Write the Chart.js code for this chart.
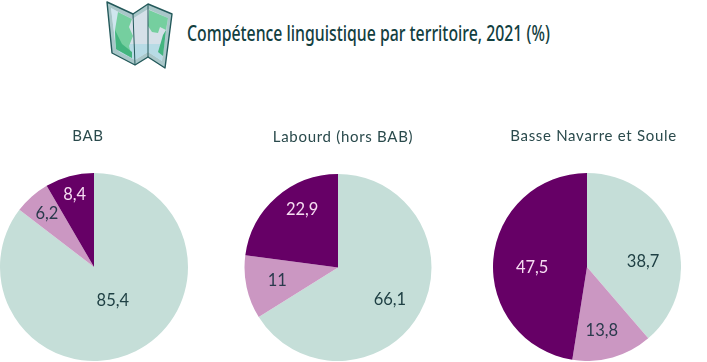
<!DOCTYPE html>
<html lang="fr">
<head>
<meta charset="utf-8">
<script src="https://cdn.jsdelivr.net/npm/chart.js@4/dist/chart.umd.min.js"></script>
<style>
html,body{margin:0;padding:0;background:#fff;overflow:hidden;width:707px;height:362px}
canvas{position:absolute}
#t{position:absolute;left:187px;top:19px;font:500 21px "Noto Sans",sans-serif;color:#12403f;white-space:nowrap;transform-origin:left top;transform:scaleX(.753)}
svg{position:absolute;left:100px;top:0}
</style>
</head>
<body>
<svg width="80" height="72" viewBox="0 0 80 72">
<path d="M7 2 33 14 48 4 72 14 65 68 48 57 35 65 12 53Z" fill="#a9c7c9" stroke="#23595a" stroke-width="1.4" stroke-linejoin="round"/>
<path d="M11 8 32 19 48 9 68 18 62 61 48 52 35 60 16 49Z" fill="#d5e0e8"/>
<path d="M19 52 15 44 62 44 62 61 48 52 35 60Z" fill="#b7dbe5"/>
<path d="M11 8 18 12 22 44 16 49Z" fill="#cfe6ee"/>
<path d="M18 12 32 19 29 27 33 36 29 46 32 58 16 49 15 30Z" fill="#75cf9f"/>
<path d="M15 30 22 44 32 52 32 58 16 49Z" fill="#43b57f"/>
<path d="M49 10 68 18 66 30 60 27 58 33 52 32 48 26Z" fill="#75cf9f"/>
<path d="M66 30 63 56 58 52 61 42 63 35Z" fill="#43b57f"/>
<path d="M33 14 35 65M48 4 48 57" stroke="#23595a" stroke-width="1"/>
</svg>
<div id="t">Compétence linguistique par territoire, 2021 (%)</div>
<canvas id="c0" width="188" height="236" style="left:0;top:125px"></canvas>
<canvas id="c1" width="188" height="235" style="left:244px;top:126px"></canvas>
<canvas id="c2" width="188" height="236" style="left:493px;top:125px"></canvas>
<script>
const categories = ["Compétence 1", "Compétence 2", "Compétence 3"];
const territories = ["BAB", "Labourd (hors BAB)", "Basse Navarre et Soule"];
const bab = [85.4, 6.2, 8.4];
const labourd = [66.1, 11, 22.9];
const basseNavarre = [38.7, 13.8, 47.5];
const sliceColors = ["#c5ded8", "#cb97c2", "#660066"];
const labelColors = ["#1f4044", "#2a3a4c", "#f6dcf2"];
const nudges = [
  [[-2,-8],[-16,-18.5],[-7,-26.5]],
  [[11,10],[-15,3],[-5,-22.5]],
  [[12,11],[2,18.5],[-8,4]]
];
const titleShift = [-6, 5, 6.5];
const sliceLabels = {
  id: "sliceLabels",
  afterDatasetsDraw(chart, args, opts) {
    const c = chart.ctx, meta = chart.getDatasetMeta(0), data = chart.data.datasets[0].data;
    c.save();
    c.font = '16.5px Lato, sans-serif';
    c.textAlign = "center"; c.textBaseline = "middle";
    meta.data.forEach((arc, i) => {
      const p = arc.tooltipPosition();
      c.fillStyle = labelColors[i];
      c.fillText(String(data[i]).replace(".", ","), p.x + opts.nudge[i][0], p.y + opts.nudge[i][1]);
    });
    c.font = '15px Lato, sans-serif';
    c.letterSpacing = "0.7px";
    c.fillStyle = "#2a4a4c";
    const a = chart.chartArea;
    c.fillText(opts.title, (a.left + a.right) / 2 + opts.shift, a.top - 37);
    c.restore();
  }
};
[bab, labourd, basseNavarre].forEach((values, k) => {
  new Chart(document.getElementById("c" + k), {
    type: "pie",
    data: { labels: categories, datasets: [{ data: values, backgroundColor: sliceColors, borderWidth: 0 }] },
    options: {
      responsive: false, animation: false,
      layout: { padding: { top: 48 } },
      plugins: {
        legend: { display: false }, tooltip: { enabled: false },
        sliceLabels: { nudge: nudges[k], title: territories[k], shift: titleShift[k] }
      }
    },
    plugins: [sliceLabels]
  });
});
</script>
</body>
</html>
